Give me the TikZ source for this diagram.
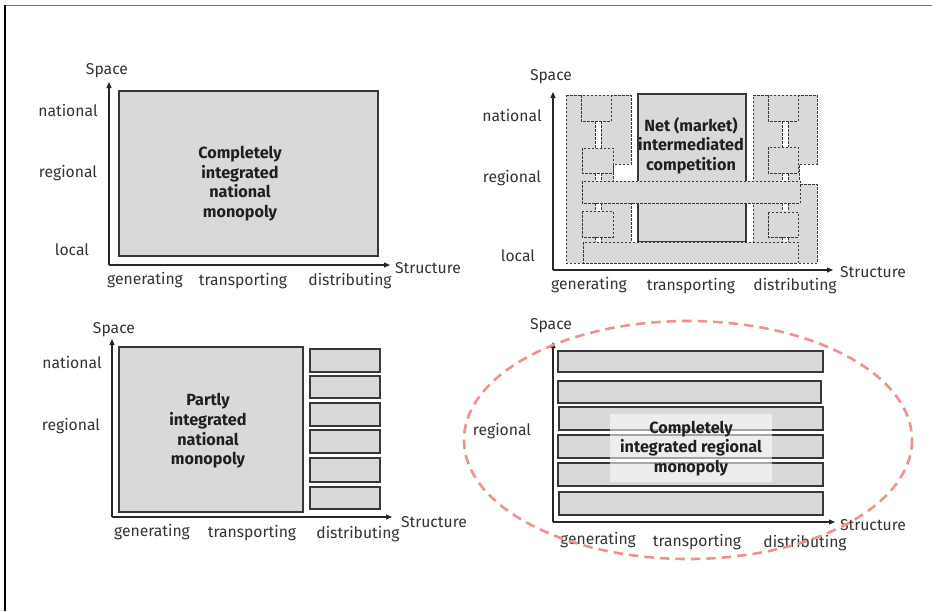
\documentclass[tikz,border=0pt]{standalone}
\usepackage{fontspec}
\setmainfont{Fira Sans}
\usetikzlibrary{arrows.meta}
\definecolor{boxgray}{HTML}{D9D9D9}
\definecolor{edgegray}{HTML}{383838}
\definecolor{labgray}{HTML}{333333}
\definecolor{salmon}{HTML}{F29090}
\tikzset{
  lbl/.style={font=\fontsize{15.7}{18}\selectfont, text=labgray, inner sep=0pt},
  ttl/.style={font=\fontsize{16.2}{19.6}\selectfont\bfseries, text=black!88, align=center, inner sep=0pt},
  axisline/.style={draw=black!85, line width=1.1pt, -{Triangle[length=6pt,width=5pt]}},
  gbox/.style={fill=boxgray, draw=edgegray, line width=1.3pt},
  dbox/.style={fill=boxgray, draw=edgegray, line width=0.9pt, dash pattern=on 2.5pt off 1.5pt},
  dline/.style={draw=edgegray, line width=0.9pt, dash pattern=on 2.5pt off 1.5pt},
  hilite/.style={fill=white, fill opacity=0.55, draw=none},
  oval/.style={draw=salmon, line width=2.6pt, dash pattern=on 9.5pt off 6pt},
}
\begin{document}
\begin{tikzpicture}[x=1pt,y=-1pt]
\useasboundingbox (0,0) rectangle (941,611);
% frame
\draw[black!55, line width=1.6pt] (5,5.5) -- (932,5.5);
\draw[black, line width=1.4pt] (5,5) -- (5,611);

% ================= Panel 1 =================
\coordinate (o1) at (109,265);
\coordinate (y1) at (109,82);
\coordinate (x1) at (390,265);
\draw[gbox] (119,91) rectangle (378,256);
\draw[axisline] (o1) -- (y1);
\draw[axisline] (o1) -- (x1);
\node[lbl] (sp1) at (107,71) {Space};
\node[lbl] (na1) at (68,110) {national};
\node[lbl] (re1) at (68,173) {regional};
\node[lbl] (lo1) at (72,250) {local};
\node[lbl] (ge1) at (145,280) {generating};
\node[lbl] (tr1) at (243,281) {transporting};
\node[lbl] (di1) at (350,281) {distributing};
\node[lbl] (st1) at (428,268) {Structure};
\node[ttl] (t1) at (240,183.5) {Completely\\integrated\\national\\monopoly};

% ================= Panel 2 =================
\coordinate (o2) at (553,270);
\coordinate (y2) at (553,92);
\coordinate (x2) at (833,270);
% generating region
\draw[dbox] (566,95) -- (631,95) -- (631,164) -- (613,164) -- (613,190) -- (631,190) -- (631,263) -- (566,263) -- cycle;
% distributing region
\draw[dbox] (753,95) -- (817,95) -- (817,164) -- (799,164) -- (799,184) -- (817,184) -- (817,263) -- (753,263) -- cycle;
% transport box
\draw[gbox] (638,94) rectangle (746,242);
% local band
\draw[dbox] (583,242) rectangle (798,263);
% connector strips
\foreach \a/\b in {121/148,173/181,203/211,237/242}{
  \fill[white] (595,\a) rectangle (601,\b);
  \draw[dline] (595,\a) -- (595,\b) (601,\a) -- (601,\b);
  \fill[white] (782,\a) rectangle (788,\b);
  \draw[dline] (782,\a) -- (782,\b) (788,\a) -- (788,\b);
}
% small boxes
\draw[dbox] (581,95) rectangle (611,121);
\draw[dbox] (582,148) rectangle (613,173);
\draw[dbox] (582,211) rectangle (613,237);
\draw[dbox] (768,95) rectangle (798,121);
\draw[dbox] (768,147) rectangle (798,173);
\draw[dbox] (768,212) rectangle (798,237);
% regional band
\draw[dbox] (582,181) rectangle (800,203);
\draw[axisline] (o2) -- (y2);
\draw[axisline] (o2) -- (x2);
\node[lbl] (sp2) at (551,77) {Space};
\node[lbl] (na2) at (512,115) {national};
\node[lbl] (re2) at (512,178) {regional};
\node[lbl] (lo2) at (518,256) {local};
\node[lbl] (ge2) at (589,285) {generating};
\node[lbl] (tr2) at (691,286) {transporting};
\node[lbl] (di2) at (795,286) {distributing};
\node[lbl] (st2) at (873,272) {Structure};
\node[ttl] (t2) at (691,145.5) {Net (market)\\intermediated\\competition};

% ================= Panel 3 =================
\coordinate (o3) at (112,517);
\coordinate (y3) at (112,339);
\coordinate (x3) at (392,517);
\draw[gbox] (119,347) rectangle (303,512);
\foreach \a/\b in {349/372,376/398,403/426,430/453,458/482,487/509}{
  \draw[gbox] (310,\a) rectangle (380,\b);
}
\draw[axisline] (o3) -- (y3);
\draw[axisline] (o3) -- (x3);
\node[lbl] (sp3) at (114,330) {Space};
\node[lbl] (na3) at (72,362) {national};
\node[lbl] (re3) at (71,426) {regional};
\node[lbl] (ge3) at (152,532) {generating};
\node[lbl] (tr3) at (252,533) {transporting};
\node[lbl] (di3) at (358,534) {distributing};
\node[lbl] (st3) at (434,522) {Structure};
\node[ttl] (t3) at (208,431) {Partly\\integrated\\national\\monopoly};

% ================= Panel 4 =================
\coordinate (o4) at (553,522);
\coordinate (y4) at (553,342);
\coordinate (x4) at (835,522);
\draw[gbox] (558,351) rectangle (823,372);
\draw[gbox] (558,381) rectangle (821,403);
\draw[gbox] (559,407) rectangle (823,430);
\draw[gbox] (558,435) rectangle (823,458);
\draw[gbox] (558,463) rectangle (823,486);
\draw[gbox] (559,492) rectangle (823,515);
\fill[hilite] (610,414) rectangle (772,482);
\draw[axisline] (o4) -- (y4);
\draw[axisline] (o4) -- (x4);
\node[lbl] (sp4) at (551,326) {Space};
\node[lbl] (re4) at (502,431) {regional};
\node[lbl] (ge4) at (598,540) {generating};
\node[lbl] (tr4) at (697,542) {transporting};
\node[lbl] (di4) at (805,543) {distributing};
\node[lbl] (st4) at (873,525) {Structure};
\node[ttl] (t4) at (691,448.5) {Completely\\integrated regional\\monopoly};
\draw[oval] (688,440) ellipse [x radius=224, y radius=119];
\end{tikzpicture}
\end{document}
